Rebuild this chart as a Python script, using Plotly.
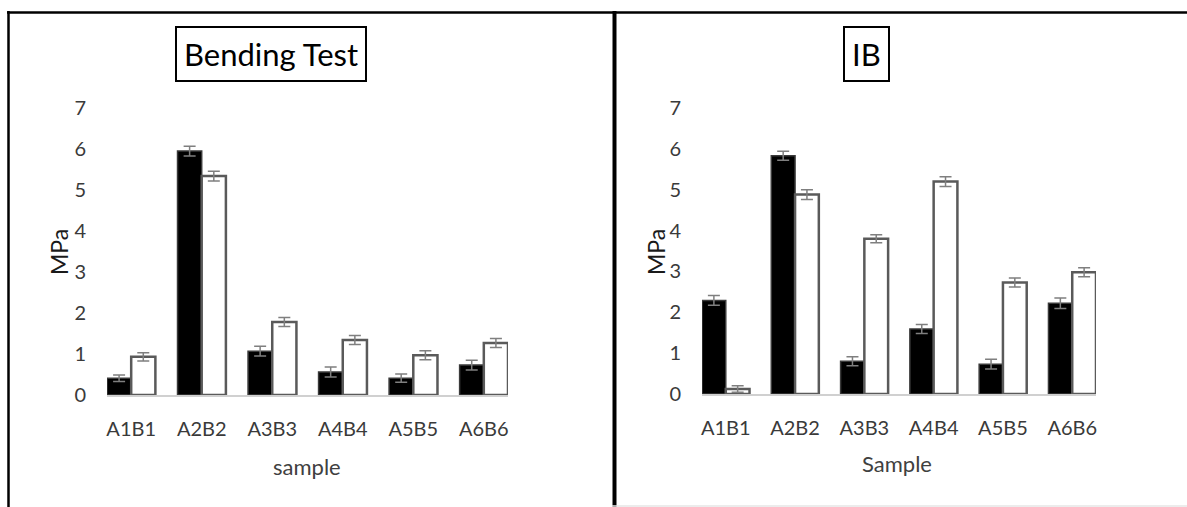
import plotly.graph_objects as go

W, H = 1187, 507

categories = ["A1B1", "A2B2", "A3B3", "A4B4", "A5B5", "A6B6"]

bend_black = [0.41, 5.95, 1.07, 0.56, 0.41, 0.73]
bend_black_err = [0.08, 0.12, 0.12, 0.12, 0.10, 0.12]
bend_white = [0.93, 5.34, 1.78, 1.34, 0.97, 1.27]
bend_white_err = [0.10, 0.12, 0.11, 0.11, 0.11, 0.11]

ib_black = [2.29, 5.83, 0.80, 1.59, 0.73, 2.22]
ib_black_err = [0.12, 0.11, 0.11, 0.11, 0.12, 0.13]
ib_white = [0.12, 4.88, 3.80, 5.20, 2.73, 2.98]
ib_white_err = [0.08, 0.12, 0.10, 0.12, 0.11, 0.11]

y_ticks = [0, 1, 2, 3, 4, 5, 6, 7]

FONT = "Lato"
TICK_COLOR = "#3a3a3a"


def px_x(p):
    return p / W


def px_y(p):
    return 1 - p / H


fig = go.Figure()


def add_pair(black, black_err, white, white_err, xa, ya):
    err_style = dict(type="data", visible=True, color="#7f7f7f", thickness=1.5, width=6)
    fig.add_trace(go.Bar(
        x=categories, y=black, xaxis=xa, yaxis=ya,
        marker=dict(color="black", line=dict(color="#3a3a3a", width=1.5)),
        error_y=dict(array=black_err, **err_style),
        showlegend=False,
    ))
    fig.add_trace(go.Bar(
        x=categories, y=white, xaxis=xa, yaxis=ya,
        marker=dict(color="white", line=dict(color="#5a5a5a", width=2.5)),
        error_y=dict(array=white_err, **err_style),
        showlegend=False,
    ))


add_pair(bend_black, bend_black_err, bend_white, bend_white_err, "x", "y")
add_pair(ib_black, ib_black_err, ib_white, ib_white_err, "x2", "y2")

half = 0.343
xcommon = dict(
    type="category", range=[-half, len(categories) - 1 + half],
    showline=True, linecolor="#d0d0d0", linewidth=2,
    showgrid=False, zeroline=False, ticks="", automargin=False,
    tickfont=dict(family=FONT, size=20, color=TICK_COLOR),
    ticklabelstandoff=15, fixedrange=True,
)
ycommon = dict(
    range=[0, 7], tickvals=y_ticks, showline=False, showgrid=False,
    zeroline=False, ticks="", automargin=False,
    tickfont=dict(family=FONT, size=20, color=TICK_COLOR),
    ticklabelstandoff=20, fixedrange=True,
)

fig.update_layout(
    width=W, height=H, autosize=False,
    margin=dict(l=0, r=0, t=0, b=0, pad=0),
    paper_bgcolor="white", plot_bgcolor="white",
    barmode="group", bargap=0.314, bargroupgap=0,
    xaxis=dict(domain=[px_x(107), px_x(508)], anchor="y", **xcommon),
    yaxis=dict(domain=[px_y(395), px_y(108)], anchor="x", **ycommon),
    xaxis2=dict(domain=[px_x(702), px_x(1096)], anchor="y2", **xcommon),
    yaxis2=dict(domain=[px_y(394), px_y(108)], anchor="x2", **ycommon),
)

ann = []
# titles with boxes
ann.append(dict(text="Bending Test", x=px_x(270.5), y=px_y(54), xref="paper", yref="paper",
                showarrow=False, font=dict(family=FONT, size=31, color="black"),
                bordercolor="black", borderwidth=2, borderpad=7, bgcolor="white",
                xanchor="center", yanchor="middle"))
ann.append(dict(text="IB", x=px_x(866), y=px_y(54), xref="paper", yref="paper",
                showarrow=False, font=dict(family=FONT, size=31, color="black"),
                bordercolor="black", borderwidth=2, borderpad=7, bgcolor="white",
                xanchor="center", yanchor="middle"))
# axis titles
for x_px, label in [(59, "MPa"), (656, "MPa")]:
    ann.append(dict(text=label, x=px_x(x_px), y=px_y(252), xref="paper", yref="paper",
                    showarrow=False, textangle=-90,
                    font=dict(family=FONT, size=23, color="#1a1a1a"),
                    xanchor="center", yanchor="middle"))
ann.append(dict(text="sample", x=px_x(307), y=px_y(466), xref="paper", yref="paper",
                showarrow=False, font=dict(family=FONT, size=22, color="#404040"),
                xanchor="center", yanchor="middle"))
ann.append(dict(text="Sample", x=px_x(897), y=px_y(463), xref="paper", yref="paper",
                showarrow=False, font=dict(family=FONT, size=22, color="#404040"),
                xanchor="center", yanchor="middle"))
fig.update_layout(annotations=ann)

# frame lines
shapes = [
    dict(type="line", xref="paper", yref="paper", x0=px_x(7), x1=1, y0=px_y(12.5), y1=px_y(12.5),
         line=dict(color="black", width=2.5)),
    dict(type="line", xref="paper", yref="paper", x0=px_x(8.5), x1=px_x(8.5), y0=px_y(11), y1=0,
         line=dict(color="black", width=2.5)),
    dict(type="line", xref="paper", yref="paper", x0=px_x(614.5), x1=px_x(614.5), y0=px_y(11), y1=0,
         line=dict(color="black", width=4)),
    dict(type="line", xref="paper", yref="paper", x0=px_x(612), x1=1, y0=px_y(506), y1=px_y(506),
         line=dict(color="#e6e6e6", width=1.5)),
]
fig.update_layout(shapes=shapes)

fig.write_html("out.html")
